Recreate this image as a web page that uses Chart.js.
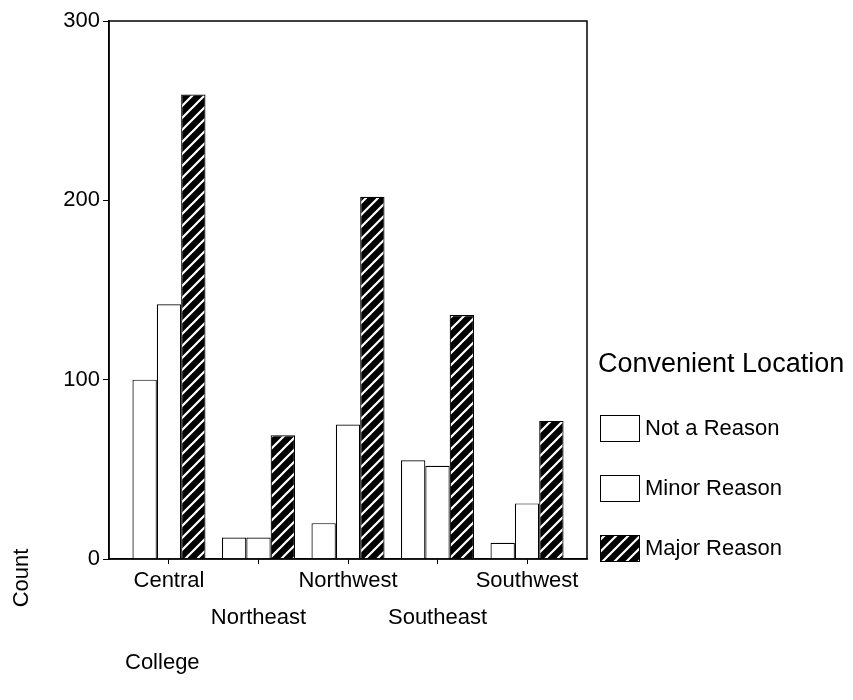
<!DOCTYPE html>
<html>
<head>
<meta charset="utf-8">
<script src="https://cdn.jsdelivr.net/npm/chart.js@4.4.1/dist/chart.umd.min.js"></script>
<style>
  html, body { margin: 0; padding: 0; background: #fff; }
</style>
</head>
<body>
<canvas id="collegeChart" width="853" height="700"></canvas>
<script>
'use strict'
const colleges = ['Central', 'Northeast', 'Northwest', 'Southeast', 'Southwest'];
const reasons = ['Not a Reason', 'Minor Reason', 'Major Reason'];
const notAReason = [100, 12, 20, 55, 9];
const minorReason = [142, 12, 75, 52, 31];
const majorReason = [259, 69, 202, 136, 77];
const yTicks = [0, 100, 200, 300];

Chart.defaults.font.family = '"Liberation Sans", Arial, sans-serif';
Chart.defaults.color = '#000';

function hatch() {
  const c = document.createElement('canvas');
  c.width = 12;
  c.height = 12;
  const g = c.getContext('2d');
  g.fillStyle = '#000';
  g.fillRect(0, 0, 12, 12);
  g.strokeStyle = '#fff';
  g.lineWidth = 2.2;
  g.beginPath();
  g.moveTo(-3, 15); g.lineTo(15, -3);
  g.moveTo(-9, 9); g.lineTo(9, -9);
  g.moveTo(3, 21); g.lineTo(21, 3);
  g.stroke();
  return g.createPattern(c, 'repeat');
}

const toPoints = (arr) => arr.map((v, i) => ({ x: i, y: v }));

// frame, axis titles and the legend on the right
const extras = {
  id: 'extras',
  afterDraw(chart) {
    const ctx = chart.ctx;
    const a = chart.chartArea;
    ctx.save();
    ctx.strokeStyle = '#000';
    ctx.lineWidth = 1.5;
    ctx.strokeRect(a.left, a.top, a.right - a.left, a.bottom - a.top);

    ctx.fillStyle = '#000';
    ctx.font = '22px "Liberation Sans", Arial, sans-serif';
    ctx.textBaseline = 'middle';
    ctx.textAlign = 'left';
    ctx.fillText('College', 125, 663);

    ctx.save();
    ctx.translate(22, 578);
    ctx.rotate(-Math.PI / 2);
    ctx.textAlign = 'center';
    ctx.fillText('Count', 0, 0);
    ctx.restore();

    ctx.font = '27px "Liberation Sans", Arial, sans-serif';
    ctx.fillText('Convenient Location', 598, 365);

    ctx.font = '22px "Liberation Sans", Arial, sans-serif';
    chart.data.datasets.forEach((ds, i) => {
      const y = 415 + i * 60;
      ctx.fillStyle = ds.backgroundColor;
      ctx.fillRect(600, y, 39, 26);
      ctx.lineWidth = 1;
      ctx.strokeStyle = '#000';
      ctx.strokeRect(600.5, y + 0.5, 39, 26);
      ctx.fillStyle = '#000';
      ctx.fillText(ds.label, 645, y + 14);
    });
    ctx.restore();
  }
};

const data = {
  datasets: [
    { label: reasons[0], data: toPoints(notAReason), backgroundColor: '#fff' },
    { label: reasons[1], data: toPoints(minorReason), backgroundColor: '#fff' },
    { label: reasons[2], data: toPoints(majorReason), backgroundColor: hatch() },
  ].map(ds => Object.assign(ds, {
    borderColor: '#000',
    borderWidth: 1.2,
    categoryPercentage: 0.816,
    barPercentage: 1.0,
  })),
};

const options = {
  animation: false,
  responsive: false,
  layout: { padding: { top: 21, right: 266, bottom: 0, left: 0 } },
  plugins: {
    legend: { display: false },
    tooltip: { enabled: false },
  },
  scales: {
    x: {
      type: 'linear',
      min: -0.67,
      max: 4.67,
      offset: false,
      grid: { offset: false, drawOnChartArea: false, tickLength: 5, color: '#000' },
      border: { color: '#000', width: 1.5 },
      ticks: {
        stepSize: 1,
        includeBounds: false,
        autoSkip: false,
        maxRotation: 0,
        padding: -2,
        font: { size: 22, lineHeight: 37 / 22 },
        callback: function (v) {
          if (!Number.isInteger(v)) return '';
          return v % 2 ? ['', colleges[v]] : colleges[v];
        },
      },
      afterFit: (s) => { s.height = 141; },
    },
    y: {
      min: 0,
      max: 300,
      grid: { drawOnChartArea: false, tickLength: 6, color: '#000' },
      border: { color: '#000', width: 1.5 },
      ticks: { padding: 3, font: { size: 22 } },
      afterBuildTicks: (s) => { s.ticks = yTicks.map(v => ({ value: v })); },
      afterFit: (s) => { s.width = 109; },
    },
  },
};

new Chart(document.getElementById('collegeChart').getContext('2d'), {
  type: 'bar',
  data: data,
  options: options,
  plugins: [extras],
});
</script>
</body>
</html>
